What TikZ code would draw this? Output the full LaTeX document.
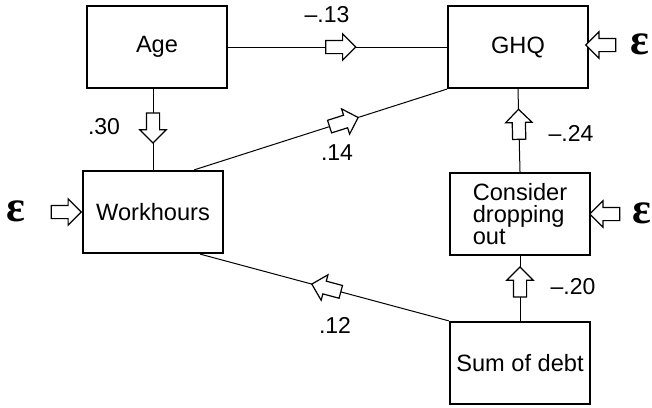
\documentclass[tikz,border=0pt]{standalone}
\usepackage{fontspec}
\setmainfont{Liberation Sans}
\newfontfamily\epsfont{Liberation Serif}
\usetikzlibrary{shapes.arrows}

\begin{document}
\begin{tikzpicture}[x=0.5pt,y=-0.5pt,
	var/.style={draw, line width=1.1pt, minimum width=70pt, minimum height=41pt, inner sep=0pt, font=\fontsize{11.8}{11.2}\selectfont},
	link/.style={line width=0.5pt},
	coef/.style={font=\fontsize{11.5}{12}\selectfont},
	err/.style={font=\epsfont\bfseries\fontsize{22}{22}\selectfont},
	barrow/.style={single arrow, draw, fill=white, line width=0.6pt, minimum height=15pt, inner xsep=0pt, inner ysep=3pt, single arrow head extend=3.3pt, single arrow head indent=0pt, sloped, allow upside down}]
	\useasboundingbox (0,0) rectangle (652,407);
	\node[var] (age) at (157,47) {Age};
	\node[var] (ghq) at (518,47) {GHQ};
	\node[var] (wh) at (153,212) {Workhours};
	\node[var, align=left] (cons) at (520,214) {Consider\\dropping\\out};
	\node[var] (sum) at (520,363) {Sum of debt};
	\draw[link] (age.east) -- node[barrow, pos=0.5] (a1) {} (ghq.west);
	\draw[link] (age.south -| wh.north) -- node[barrow, pos=0.44] (a2) {} (wh.north);
	\draw[link] ([xshift=-15pt]wh.north east) -- node[barrow, pos=0.58] (a3) {} (ghq.south west);
	\draw[link] (cons.north) -- node[barrow, pos=0.535] (a4) {} (ghq.south);
	\draw[link] (sum.north) -- node[barrow, pos=0.55] (a5) {} (cons.south);
	\draw[link] (sum.north west) -- node[barrow, pos=0.48] (a6) {} ([xshift=-12pt]wh.south east);
	\node[coef] (c1) at (327,15) {--.13};
	\node[coef] (c2) at (104,127) {.30};
	\node[coef] (c3) at (337,153) {.14};
	\node[coef] (c4) at (571,133) {--.24};
	\node[coef] (c5) at (573,287) {--.20};
	\node[coef] (c6) at (335,325) {.12};
	% error terms
	\node[err] (e1) at (640,44) {ε};
	\node[barrow, shape border rotate=180] (b1) at (604,45) {};
	\node[err] (e2) at (16,211) {ε};
	\node[barrow] (b2) at (63,212) {};
	\node[err] (e3) at (642,213) {ε};
	\node[barrow, shape border rotate=180] (b3) at (608,214) {};
\end{tikzpicture}
\end{document}
